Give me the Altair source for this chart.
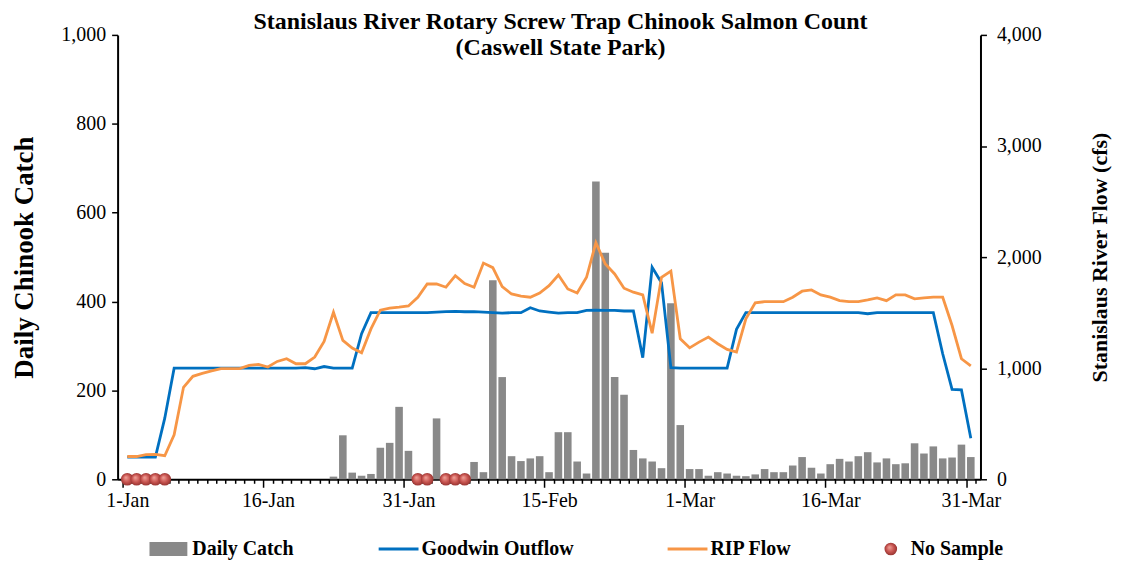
import altair as alt
import pandas as pd

# ---------------- data ----------------
tick_labels = ["1-Jan", "16-Jan", "31-Jan", "15-Feb", "1-Mar", "16-Mar", "31-Mar"]
days = list(range(91))  # 1-Jan .. 31-Mar (leap year)

daily_catch = [
    0, 0, 0, 0, 0, 0, 0, 0, 0, 0,
    0, 0, 0, 0, 0, 0, 0, 0, 0, 0,
    0, 0, 6, 99, 15, 8, 12, 71, 82, 163,
    64, 0, 0, 137, 0, 0, 0, 39, 16, 448,
    230, 52, 41, 47, 52, 16, 106, 106, 40, 13,
    670, 510, 230, 190, 66, 47, 40, 25, 396, 122,
    23, 23, 8, 16, 13, 8, 7, 11, 23, 16,
    16, 31, 50, 26, 13, 34, 46, 40, 52, 61,
    38, 47, 34, 36, 81, 58, 74, 47, 49, 78,
    50,
]

goodwin_outflow = [
    200, 200, 200, 200, 550, 1000, 1000, 1000, 1000, 1000,
    1000, 1000, 1000, 1000, 1000, 1000, 1000, 1000, 1000, 1005,
    995, 1015, 1000, 1000, 1000, 1310, 1500, 1500, 1500, 1500,
    1500, 1500, 1500, 1505, 1510, 1512, 1508, 1510, 1505, 1500,
    1495, 1500, 1500, 1545, 1515, 1505, 1495, 1500, 1500, 1520,
    1522, 1520, 1520, 1515, 1515, 1095, 1908, 1770, 1005, 1000,
    1000, 1000, 1000, 1000, 1000, 1350, 1500, 1500, 1500, 1500,
    1500, 1500, 1500, 1500, 1500, 1500, 1500, 1500, 1500, 1490,
    1500, 1500, 1500, 1500, 1500, 1500, 1500, 1130, 810, 805,
    370,
]

rip_flow = [
    205, 205, 222, 224, 212, 400, 828, 927, 954, 975,
    996, 996, 996, 1025, 1034, 1011, 1061, 1085, 1040, 1040,
    1100, 1240, 1504, 1250, 1181, 1139, 1354, 1522, 1540, 1549,
    1560, 1639, 1758, 1758, 1729, 1833, 1762, 1729, 1946, 1905,
    1734, 1668, 1648, 1639, 1677, 1743, 1839, 1713, 1677, 1818,
    2130, 1938, 1848, 1720, 1684, 1660, 1315, 1818, 1873, 1265,
    1183, 1235, 1280, 1220, 1169, 1145, 1444, 1588, 1599, 1599,
    1599, 1639, 1693, 1704, 1660, 1639, 1608, 1599, 1599, 1615,
    1633, 1608, 1660, 1660, 1624, 1633, 1639, 1639, 1384, 1085,
    1020,
]

no_sample_days = [0, 1, 2, 3, 4, 31, 32, 34, 35, 36]

legend_items = ["Daily Catch", "Goodwin Outflow", "RIP Flow", "No Sample"]

# ---------------- styles ----------------
FONT = "Liberation Serif"
GRAY = "#898989"
BLUE = "#0070C0"
ORANGE = "#F79646"
DOT = {
    "gradient": "radial",
    "x1": 0.38, "y1": 0.35, "r1": 0.0,
    "x2": 0.5, "y2": 0.5, "r2": 0.55,
    "stops": [
        {"offset": 0.0, "color": "#f2a59c"},
        {"offset": 0.55, "color": "#c85450"},
        {"offset": 1.0, "color": "#8e2f2c"},
    ],
}

W, H = 866, 446

df = pd.DataFrame({"day": days, "catch": daily_catch,
                   "goodwin": goodwin_outflow, "rip": rip_flow})
flows = df.melt(id_vars="day", value_vars=["goodwin", "rip"],
                var_name="series", value_name="flow")
ns = pd.DataFrame({"day": no_sample_days, "zero": [0] * len(no_sample_days)})

label_arr = "[" + ",".join("'%s'" % t for t in tick_labels) + "]"
major = "(datum.value + 0.5) % 15 == 0"
x_axis = alt.Axis(
    values=[i - 0.5 for i in range(92)],
    labelExpr=f"{major} ? {label_arr}[(datum.value + 0.5) / 15] : ''",
    labelOffset=4.76,
    labelFlush=False,
    labelOverlap=False,
    labelFont=FONT, labelFontSize=20, labelColor="black", labelPadding=3,
    tickSize={"condition": {"test": major, "value": 8}, "value": 4},
    tickColor="black", tickWidth=1.5,
    domainColor="black", domainWidth=2,
    grid=False, title=None,
)
x_scale = alt.Scale(domain=[-0.5, 90.5], nice=False, zero=False)

left_axis = alt.Axis(
    values=[0, 200, 400, 600, 800, 1000], format=",.0f",
    labelFont=FONT, labelFontSize=20, labelColor="black", labelPadding=6,
    tickSize=6, tickColor="black", tickWidth=1.5,
    domainColor="black", domainWidth=2, grid=False,
    title="Daily Chinook Catch", titleFont=FONT, titleFontSize=27,
    titleFontWeight="bold", titleColor="black", titlePadding=22,
)
left_scale = alt.Scale(domain=[0, 1000], nice=False)

right_axis = alt.Axis(
    orient="right",
    values=[0, 1000, 2000, 3000, 4000], format=",.0f",
    labelFont=FONT, labelFontSize=20, labelColor="black", labelPadding=10,
    tickSize=6, tickColor="black", tickWidth=1.5,
    domainColor="black", domainWidth=2, grid=False,
    title="Stanislaus River Flow (cfs)", titleFont=FONT, titleFontSize=22,
    titleFontWeight="bold", titleColor="black", titleAngle=270, titlePadding=70,
)
right_scale = alt.Scale(domain=[0, 4000], nice=False)

X = alt.X("day:Q", scale=x_scale, axis=x_axis)

bars = alt.Chart(df).mark_bar(color=GRAY, size=7.6).encode(
    x=X, y=alt.Y("catch:Q", scale=left_scale, axis=left_axis)
)
dots = alt.Chart(ns).mark_point(filled=True, shape="circle", size=160,
                                color=DOT, opacity=1).encode(
    x=X, y=alt.Y("zero:Q", scale=left_scale, axis=left_axis)
)
lines = alt.Chart(flows).mark_line(strokeWidth=2.8).encode(
    x=X,
    y=alt.Y("flow:Q", scale=right_scale, axis=right_axis),
    color=alt.Color("series:N",
                    scale=alt.Scale(domain=["goodwin", "rip"], range=[BLUE, ORANGE]),
                    legend=None),
)

main = alt.layer(alt.layer(bars, dots), lines).resolve_scale(
    y="independent").properties(width=W, height=H)

# ---------------- legend panel ----------------
leg = pd.DataFrame({"item": legend_items, "idx": list(range(len(legend_items)))})
LX = alt.X("idx:Q", scale=alt.Scale(domain=[0, 1, 2, 3], range=[75, 305, 595, 796],
                                     nice=False, zero=False), axis=None)
leg_base = alt.Chart(leg)
leg_text = leg_base.mark_text(align="left", baseline="middle", font=FONT,
                              fontSize=20, fontWeight="bold", color="black").encode(
    x=LX, text="item:N")
leg_bar = leg_base.transform_filter("datum.idx == 0").mark_point(
    shape="M-1,-0.37H1V0.37H-1Z", filled=True, size=1444, color=GRAY,
    opacity=1, xOffset=-24).encode(x=LX)
leg_lines = leg_base.transform_filter("datum.idx == 1 || datum.idx == 2").mark_point(
    shape="M-1,0H1", filled=False, size=1600, strokeWidth=3, opacity=1,
    xOffset=-23).encode(
    x=LX,
    color=alt.Color("item:N", scale=alt.Scale(domain=legend_items[1:3],
                                              range=[BLUE, ORANGE]), legend=None))
leg_dot = leg_base.transform_filter("datum.idx == 3").mark_point(
    shape="circle", filled=True, size=160, color=DOT, opacity=1,
    xOffset=-20).encode(x=LX)
legend_panel = alt.layer(leg_bar, leg_lines, leg_dot, leg_text).properties(
    width=W, height=20)

chart = alt.vconcat(main, legend_panel, spacing=29).properties(
    title=alt.Title(
        ["Stanislaus River Rotary Screw Trap Chinook Salmon Count",
         "(Caswell State Park)"],
        font=FONT, fontSize=24, fontWeight="bold", color="black",
        anchor="middle", offset=-35, lineHeight=26,
    ),
    padding={"left": 3, "top": 1, "right": 3, "bottom": 0},
).configure_view(stroke=None)

chart.save("out.html", embed_options={"renderer": "svg", "actions": False})
